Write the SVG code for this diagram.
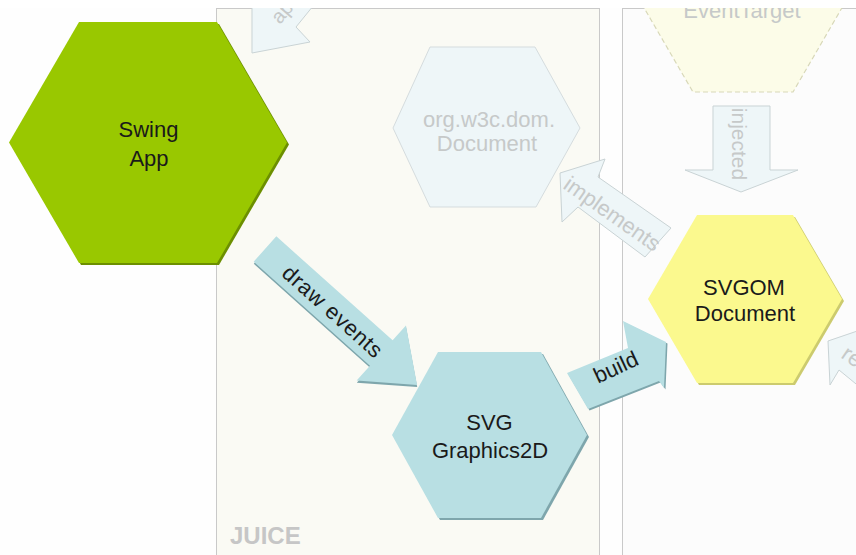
<svg xmlns="http://www.w3.org/2000/svg" width="856" height="555" viewBox="0 0 856 555">
<style>
text{font-family:"Liberation Sans",Arial,sans-serif;font-size:22px;}
.dark{fill:#1a1a1a;text-anchor:middle;}
.faint{fill:#c6c9c9;}
.mid{text-anchor:middle;}
.lightshape{fill:#eef6f8;stroke:#c9d3d5;stroke-width:1;}
.panel{stroke:#c9c9c9;stroke-width:1;}
</style>
<defs>
<clipPath id="cv"><rect x="0" y="8" width="856" height="547"/></clipPath>
</defs>
<rect x="0" y="0" width="856" height="555" fill="#ffffff"/>
<g clip-path="url(#cv)">
<rect x="0" y="8" width="856" height="547" fill="#fefefe"/>
<g id="panel-juice">
<rect class="panel" x="216.5" y="8.5" width="383" height="570" fill="#fafaf4"/>
<text x="230" y="544" style="font-size:24px;font-weight:bold;fill:#c6c6c6">JUICE</text>
</g>
<g id="panel-right">
<rect class="panel" x="622.5" y="8.5" width="300" height="570" fill="#fcfcfc"/>
</g>

<g id="node-eventtarget">
<polygon points="693,-80 793,-80 843,6 793,92 693,92 643,6" fill="#fcfce8" stroke="#d8d8b8" stroke-width="1.2" stroke-dasharray="5,3"/>
<text class="faint mid" x="742" y="18">EventTarget</text>
</g>

<g id="node-orgdom">
<polygon class="lightshape" points="430,47 535,47 580,128 536,207 430,207 393,128" style="stroke:#d5dcde"/>
<text class="faint mid" x="489" y="127">org.w3c.dom.</text>
<text class="faint mid" x="487" y="151">Document</text>
</g>

<g id="connectors">
<g id="arrow-ap">
<polygon class="lightshape" points="252,-5 252,53 310,42 296,27 322,-5"/>
<text class="faint" transform="translate(280,25) rotate(-50)" style="font-size:20px">ap</text>
</g>
<g id="arrow-injected">
<polygon class="lightshape" points="713,106 770,106 770,170 798,170 741,192 685,170 713,170"/>
<text class="faint mid" transform="translate(732,144) rotate(90)" style="font-size:21px">injected</text>
</g>
<g id="arrow-implements">
<polygon class="lightshape" points="560,173 605,159 598,177 671,228 645,257 578,207 562,222"/>
<text class="faint mid" transform="translate(608,220) rotate(35)">implements</text>
</g>
<g id="arrow-re">
<polygon class="lightshape" points="828,341 872,326 865,344 925,388 900,420 839,370 830,385"/>
<text class="faint" transform="translate(840,357) rotate(35)">re</text>
</g>
<g id="arrow-draw-events" transform="translate(265,249) rotate(41.8)">
<polygon points="0,-17 156,-17 156,-37 204,0 156,37 156,17 0,17" fill="#7ea6ac" transform="translate(1.5,1.5)"/>
<polygon points="0,-17 156,-17 156,-37 204,0 156,37 156,17 0,17" fill="#b8dfe3"/>
<text class="dark" x="92" y="9" textLength="126" lengthAdjust="spacing">draw events</text>
</g>
<g id="arrow-build">
<polygon points="567,373 628,348 623,321 666,342 664,388 659,381 588,409" fill="#7ea6ac" transform="translate(1.5,1.5)"/>
<polygon points="567,373 628,348 623,321 666,342 664,388 659,381 588,409" fill="#b8dfe3"/>
<text class="dark" transform="translate(619,374) rotate(-25)">build</text>
</g>
</g>

<g id="node-swing">
<polygon points="79,22 217,22 287,142.5 217,263 79,263 9,142.5" fill="#6c8f00" transform="translate(2,2)"/>
<polygon points="79,22 217,22 287,142.5 217,263 79,263 9,142.5" fill="#99c800"/>
<text class="dark" x="148.5" y="137">Swing</text>
<text class="dark" x="149" y="166">App</text>
</g>

<g id="node-svggraphics">
<polygon points="438,352 541,352 587,435 541,518 438,518 392,435" fill="#7ea6ac" transform="translate(2,2)"/>
<polygon points="438,352 541,352 587,435 541,518 438,518 392,435" fill="#b8dfe3"/>
<text class="dark" x="489.5" y="430">SVG</text>
<text class="dark" x="490" y="458">Graphics2D</text>
</g>

<g id="node-svgom">
<polygon points="697,215 793,215 842,299 793,383 697,383 648,299" fill="#cccb6e" transform="translate(2,2)"/>
<polygon points="697,215 793,215 842,299 793,383 697,383 648,299" fill="#fbf98e"/>
<text class="dark" x="744" y="295">SVGOM</text>
<text class="dark" x="745" y="320.5">Document</text>
</g>
</g>
</svg>
